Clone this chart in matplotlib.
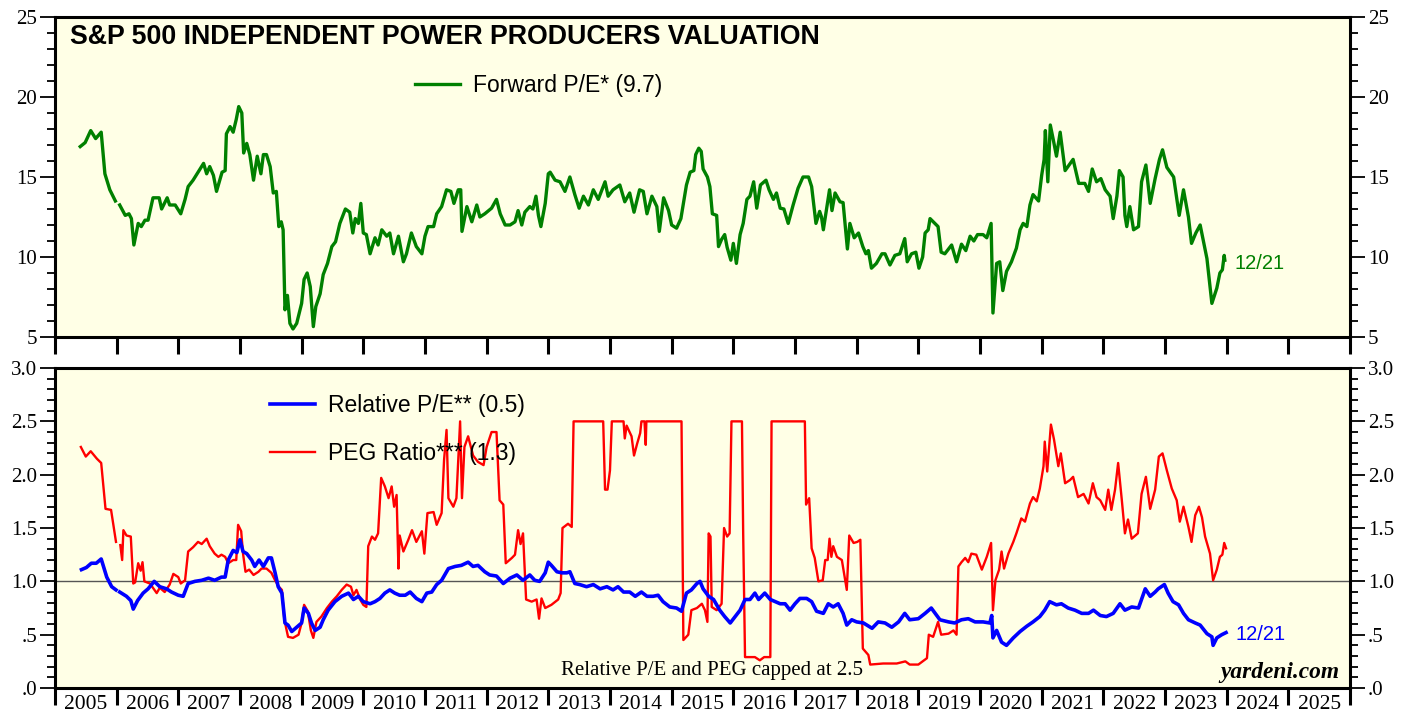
"""
S&P 500 Independent Power Producers valuation (forward P/E, relative P/E, PEG)
"""
import numpy as np
import matplotlib
matplotlib.use("Agg")
import matplotlib.pyplot as plt
from matplotlib.ticker import MultipleLocator, FixedLocator, FuncFormatter, NullFormatter

nan = np.nan

# Forward P/E (weekly readings, decimal years)
pe_dates = [
    2005.41, 2005.49, 2005.58, 2005.66, 2005.75, 2005.81, 2005.89, 2005.98, 2006.01,
    2006.05, 2006.14, 2006.20, 2006.24, 2006.28, 2006.35, 2006.40, 2006.46, 2006.51,
    2006.59, 2006.69, 2006.73, 2006.82, 2006.86, 2006.95, 2007.04, 2007.11, 2007.16,
    2007.24, 2007.32, 2007.41, 2007.46, 2007.51, 2007.57, 2007.62, 2007.71, 2007.76,
    2007.78, 2007.84, 2007.89, 2007.94, 2007.98, 2008.03, 2008.06, 2008.11, 2008.16,
    2008.22, 2008.28, 2008.34, 2008.38, 2008.43, 2008.49, 2008.54, 2008.59, 2008.63,
    2008.67, 2008.70, 2008.73, 2008.77, 2008.81, 2008.86, 2008.92, 2009.00, 2009.04,
    2009.09, 2009.14, 2009.19, 2009.23, 2009.30, 2009.35, 2009.42, 2009.49, 2009.55,
    2009.62, 2009.71, 2009.78, 2009.83, 2009.87, 2009.92, 2009.96, 2010.00, 2010.05,
    2010.11, 2010.19, 2010.24, 2010.30, 2010.38, 2010.43, 2010.49, 2010.57, 2010.65,
    2010.70, 2010.78, 2010.86, 2010.95, 2011.00, 2011.05, 2011.14, 2011.19, 2011.27,
    2011.35, 2011.42, 2011.47, 2011.54, 2011.58, 2011.60, 2011.68, 2011.76, 2011.84,
    2011.89, 2011.97, 2012.08, 2012.16, 2012.22, 2012.30, 2012.38, 2012.46, 2012.51,
    2012.57, 2012.62, 2012.70, 2012.75, 2012.80, 2012.84, 2012.88, 2012.95, 2013.00,
    2013.03, 2013.11, 2013.19, 2013.27, 2013.35, 2013.43, 2013.50, 2013.57, 2013.65,
    2013.73, 2013.81, 2013.92, 2013.97, 2014.05, 2014.16, 2014.24, 2014.32, 2014.39,
    2014.48, 2014.54, 2014.60, 2014.68, 2014.76, 2014.80, 2014.87, 2014.95, 2015.00,
    2015.08, 2015.15, 2015.19, 2015.24, 2015.30, 2015.36, 2015.39, 2015.44, 2015.48,
    2015.51, 2015.58, 2015.62, 2015.66, 2015.73, 2015.76, 2015.81, 2015.86, 2015.90,
    2015.96, 2016.00, 2016.05, 2016.11, 2016.16, 2016.22, 2016.27, 2016.33, 2016.38,
    2016.44, 2016.53, 2016.58, 2016.65, 2016.70, 2016.76, 2016.82, 2016.89, 2016.97,
    2017.05, 2017.13, 2017.22, 2017.27, 2017.34, 2017.40, 2017.43, 2017.46, 2017.56,
    2017.60, 2017.65, 2017.73, 2017.78, 2017.85, 2017.89, 2017.96, 2018.03, 2018.10,
    2018.15, 2018.19, 2018.24, 2018.32, 2018.41, 2018.46, 2018.54, 2018.62, 2018.70,
    2018.78, 2018.82, 2018.89, 2018.96, 2019.01, 2019.07, 2019.11, 2019.16, 2019.19,
    2019.32, 2019.37, 2019.43, 2019.54, 2019.62, 2019.70, 2019.77, 2019.84, 2019.90,
    2019.96, 2020.05, 2020.11, 2020.18, 2020.21, 2020.27, 2020.32, 2020.37, 2020.43,
    2020.51, 2020.59, 2020.65, 2020.70, 2020.76, 2020.81, 2020.86, 2020.95, 2021.00,
    2021.04, 2021.06, 2021.10, 2021.14, 2021.19, 2021.24, 2021.30, 2021.38, 2021.51,
    2021.60, 2021.70, 2021.76, 2021.82, 2021.89, 2021.96, 2022.03, 2022.11, 2022.16,
    2022.22, 2022.26, 2022.32, 2022.35, 2022.38, 2022.43, 2022.49, 2022.57, 2022.62,
    2022.69, 2022.76, 2022.84, 2022.91, 2022.96, 2023.03, 2023.14, 2023.23, 2023.30,
    2023.38, 2023.43, 2023.50, 2023.57, 2023.68, 2023.76, 2023.84, 2023.89, 2023.93,
    2023.96, 2023.97,
]
pe_values = [
    16.9, 17.15, 17.9, 17.4, 17.8, 15.2, 14.2, 13.5, nan,
    13.25, 12.6, 12.7, 12.4, 10.75, 12.1, 11.9, 12.3, 12.3,
    13.7, 13.7, 13.0, 13.7, 13.25, 13.25, 12.7, 13.6, 14.4,
    14.8, 15.3, 15.85, 15.2, 15.65, 15.1, 14.1, 15.3, 15.4,
    17.7, 18.15, 17.8, 18.6, 19.4, 19.0, 16.5, 17.1, 16.4,
    14.8, 16.3, 15.2, 16.4, 16.4, 15.65, 14.0, 14.1, 11.9,
    12.2, 11.7, 6.7, 7.6, 5.85, 5.5, 5.85, 7.1, 8.6,
    9.0, 8.15, 5.65, 6.9, 7.7, 8.9, 9.6, 10.65, 10.95,
    12.1, 13.0, 12.8, 11.5, 12.4, 12.1, 13.35, 11.5, 11.4,
    10.2, 11.2, 10.75, 11.7, 11.3, 11.5, 10.2, 11.3, 9.7,
    10.2, 11.5, 10.65, 10.2, 11.3, 11.9, 11.9, 12.7, 13.15,
    14.2, 14.1, 13.35, 14.2, 14.2, 11.6, 13.15, 12.2, 13.25,
    12.5, 12.7, 13.05, 13.6, 12.7, 12.0, 12.0, 12.2, 12.9,
    12.0, 12.8, 13.15, 13.0, 13.8, 12.6, 11.9, 13.35, 15.2,
    15.3, 14.8, 14.7, 14.1, 15.0, 13.9, 13.05, 13.8, 13.25,
    14.2, 13.6, 14.7, 13.8, 14.2, 14.5, 13.45, 14.0, 12.8,
    14.2, 14.1, 12.7, 13.8, 13.15, 11.6, 13.7, 12.9, 12.0,
    11.8, 12.4, 13.35, 14.5, 15.3, 15.4, 16.4, 16.8, 16.6,
    15.5, 15.0, 14.4, 12.7, 12.6, 10.65, 11.1, 11.4, 10.6,
    9.8, 10.85, 9.6, 11.4, 12.1, 13.6, 13.8, 14.7, 13.05,
    14.5, 14.8, 14.2, 13.6, 14.0, 13.05, 13.0, 12.1, 13.25,
    14.3, 15.0, 15.0, 14.4, 12.1, 12.85, 12.5, 11.7, 14.2,
    12.9, 14.0, 13.45, 13.4, 10.5, 12.1, 11.2, 11.5, 10.65,
    10.2, 10.4, 9.3, 9.6, 10.2, 10.2, 9.5, 10.1, 10.2,
    11.15, 9.7, 10.2, 10.3, 9.3, 10.0, 11.5, 11.7, 12.4,
    11.9, 10.3, 10.2, 10.75, 9.7, 10.8, 10.4, 11.3, 11.0,
    11.4, 11.4, 11.2, 12.1, 6.5, 9.6, 9.7, 7.9, 9.1,
    9.7, 10.55, 11.7, 12.1, 11.9, 13.25, 13.9, 13.5, 15.1,
    16.1, 17.9, 14.7, 18.25, 17.3, 16.3, 17.8, 15.4, 16.1,
    14.6, 14.6, 14.1, 15.5, 14.7, 14.9, 14.2, 13.8, 12.4,
    13.8, 15.4, 15.0, 12.6, 11.9, 13.15, 11.7, 11.9, 14.7,
    15.75, 13.35, 14.9, 16.1, 16.7, 15.6, 15.0, 12.6, 14.2,
    12.5, 10.85, 11.5, 12.0, 9.9, 7.1, 8.05, 9.0, 9.2,
    10.1, 9.8,
]

# Relative P/E (industry forward P/E / S&P 500 forward P/E)
rel_dates = [
    2005.43, 2005.51, 2005.59, 2005.67, 2005.75, 2005.84, 2005.92, 2005.99, 2006.02,
    2006.05, 2006.16, 2006.23, 2006.27, 2006.34, 2006.43, 2006.51, 2006.61, 2006.70,
    2006.81, 2006.89, 2007.00, 2007.08, 2007.16, 2007.27, 2007.38, 2007.49, 2007.59,
    2007.70, 2007.76, 2007.81, 2007.89, 2007.95, 2008.00, 2008.05, 2008.11, 2008.19,
    2008.24, 2008.31, 2008.38, 2008.46, 2008.51, 2008.57, 2008.62, 2008.68, 2008.73,
    2008.78, 2008.84, 2008.92, 2009.00, 2009.04, 2009.11, 2009.16, 2009.22, 2009.30,
    2009.35, 2009.43, 2009.54, 2009.65, 2009.76, 2009.84, 2009.92, 2010.00, 2010.11,
    2010.19, 2010.27, 2010.35, 2010.43, 2010.51, 2010.59, 2010.68, 2010.76, 2010.86,
    2010.95, 2011.03, 2011.11, 2011.19, 2011.27, 2011.38, 2011.49, 2011.59, 2011.70,
    2011.78, 2011.86, 2011.97, 2012.05, 2012.16, 2012.27, 2012.38, 2012.49, 2012.59,
    2012.70, 2012.78, 2012.86, 2012.95, 2013.00, 2013.05, 2013.14, 2013.22, 2013.30,
    2013.35, 2013.43, 2013.51, 2013.62, 2013.73, 2013.84, 2013.95, 2014.05, 2014.13,
    2014.22, 2014.32, 2014.41, 2014.51, 2014.60, 2014.70, 2014.78, 2014.86, 2014.97,
    2015.08, 2015.16, 2015.24, 2015.32, 2015.41, 2015.46, 2015.51, 2015.60, 2015.68,
    2015.78, 2015.86, 2015.95, 2016.03, 2016.11, 2016.19, 2016.27, 2016.35, 2016.41,
    2016.51, 2016.60, 2016.68, 2016.76, 2016.84, 2016.92, 2017.00, 2017.08, 2017.19,
    2017.27, 2017.35, 2017.46, 2017.54, 2017.62, 2017.70, 2017.78, 2017.84, 2017.92,
    2018.00, 2018.11, 2018.25, 2018.35, 2018.46, 2018.57, 2018.68, 2018.78, 2018.86,
    2019.00, 2019.11, 2019.21, 2019.35, 2019.49, 2019.59, 2019.70, 2019.81, 2019.92,
    2020.05, 2020.16, 2020.19, 2020.21, 2020.27, 2020.35, 2020.43, 2020.54, 2020.65,
    2020.76, 2020.86, 2020.97, 2021.05, 2021.13, 2021.24, 2021.32, 2021.43, 2021.54,
    2021.65, 2021.76, 2021.84, 2021.95, 2022.05, 2022.16, 2022.27, 2022.35, 2022.46,
    2022.57, 2022.68, 2022.76, 2022.84, 2022.89, 2022.99, 2023.05, 2023.13, 2023.22,
    2023.30, 2023.38, 2023.49, 2023.57, 2023.68, 2023.76, 2023.78, 2023.84, 2023.92,
    2023.99,
]
rel_values = [
    1.11, 1.13, 1.17, 1.17, 1.21, 1.04, 0.95, 0.92, nan,
    0.90, 0.86, 0.82, 0.74, 0.82, 0.89, 0.93, 1.00, 0.95,
    0.93, 0.90, 0.87, 0.86, 0.98, 1.00, 1.01, 1.03, 1.01,
    1.04, 1.04, 1.20, 1.29, 1.27, 1.39, 1.28, 1.26, 1.20,
    1.14, 1.20, 1.14, 1.22, 1.22, 1.08, 0.95, 0.89, 0.61,
    0.59, 0.53, 0.57, 0.61, 0.75, 0.70, 0.61, 0.54, 0.57,
    0.64, 0.73, 0.81, 0.86, 0.89, 0.83, 0.86, 0.81, 0.79,
    0.81, 0.84, 0.89, 0.92, 0.89, 0.87, 0.87, 0.90, 0.84,
    0.81, 0.89, 0.90, 0.97, 1.01, 1.12, 1.14, 1.15, 1.18,
    1.14, 1.15, 1.09, 1.06, 1.05, 0.98, 1.03, 1.06, 1.01,
    1.06, 1.01, 1.00, 1.08, 1.18, 1.15, 1.09, 1.08, 1.08,
    1.09, 0.98, 0.97, 0.95, 0.97, 0.93, 0.95, 0.92, 0.95,
    0.90, 0.90, 0.86, 0.90, 0.86, 0.86, 0.87, 0.81, 0.76,
    0.75, 0.72, 0.89, 0.92, 0.98, 1.00, 0.93, 0.86, 0.83,
    0.73, 0.67, 0.61, 0.67, 0.73, 0.83, 0.83, 0.89, 0.83,
    0.89, 0.83, 0.81, 0.79, 0.79, 0.73, 0.79, 0.84, 0.84,
    0.81, 0.72, 0.70, 0.79, 0.76, 0.79, 0.70, 0.59, 0.64,
    0.62, 0.61, 0.56, 0.62, 0.61, 0.57, 0.62, 0.70, 0.64,
    0.65, 0.70, 0.75, 0.64, 0.62, 0.61, 0.64, 0.65, 0.62,
    0.62, 0.61, 0.68, 0.47, 0.54, 0.43, 0.40, 0.47, 0.53,
    0.58, 0.62, 0.67, 0.73, 0.81, 0.78, 0.79, 0.75, 0.73,
    0.70, 0.70, 0.73, 0.68, 0.67, 0.70, 0.79, 0.73, 0.76,
    0.75, 0.93, 0.86, 0.90, 0.93, 0.97, 0.89, 0.81, 0.78,
    0.70, 0.64, 0.61, 0.59, 0.51, 0.48, 0.40, 0.47, 0.50,
    0.52,
]

# PEG ratio (capped at 2.5)
peg_dates = [
    2005.42, 2005.50, 2005.58, 2005.68, 2005.75, 2005.82, 2005.91, 2005.99, 2006.02,
    2006.06, 2006.09, 2006.11, 2006.16, 2006.23, 2006.27, 2006.30, 2006.35, 2006.39,
    2006.42, 2006.45, 2006.54, 2006.65, 2006.70, 2006.78, 2006.86, 2006.92, 2007.00,
    2007.04, 2007.11, 2007.16, 2007.24, 2007.32, 2007.38, 2007.46, 2007.51, 2007.59,
    2007.65, 2007.70, 2007.76, 2007.81, 2007.89, 2007.94, 2007.97, 2008.02, 2008.05,
    2008.09, 2008.15, 2008.22, 2008.30, 2008.35, 2008.43, 2008.51, 2008.57, 2008.63,
    2008.68, 2008.72, 2008.78, 2008.86, 2008.95, 2009.00, 2009.04, 2009.10, 2009.15,
    2009.19, 2009.24, 2009.32, 2009.41, 2009.49, 2009.57, 2009.65, 2009.73, 2009.80,
    2009.84, 2009.89, 2009.95, 2010.00, 2010.05, 2010.08, 2010.14, 2010.19, 2010.24,
    2010.29, 2010.35, 2010.41, 2010.46, 2010.50, 2010.54, 2010.57, 2010.59, 2010.65,
    2010.73, 2010.79, 2010.86, 2010.95, 2010.99, 2011.04, 2011.14, 2011.19, 2011.27,
    2011.31, 2011.35, 2011.38, 2011.46, 2011.51, 2011.57, 2011.60, 2011.64, 2011.70,
    2011.78, 2011.86, 2011.95, 2012.00, 2012.08, 2012.16, 2012.21, 2012.27, 2012.31,
    2012.41, 2012.46, 2012.51, 2012.55, 2012.59, 2012.64, 2012.73, 2012.81, 2012.85,
    2012.89, 2012.95, 2013.05, 2013.16, 2013.20, 2013.23, 2013.32, 2013.38, 2013.41,
    2013.89, 2013.92, 2013.96, 2014.00, 2014.03, 2014.22, 2014.24, 2014.27, 2014.35,
    2014.39, 2014.44, 2014.49, 2014.51, 2014.56, 2014.58, 2014.59, 2015.16, 2015.19,
    2015.27, 2015.32, 2015.41, 2015.49, 2015.54, 2015.58, 2015.60, 2015.63, 2015.65,
    2015.73, 2015.81, 2015.85, 2015.90, 2015.94, 2015.97, 2016.14, 2016.16, 2016.19,
    2016.35, 2016.43, 2016.50, 2016.60, 2016.62, 2017.16, 2017.18, 2017.23, 2017.27,
    2017.32, 2017.38, 2017.45, 2017.49, 2017.53, 2017.56, 2017.59, 2017.62, 2017.68,
    2017.76, 2017.84, 2017.88, 2017.95, 2018.01, 2018.06, 2018.10, 2018.19, 2018.22,
    2018.43, 2018.65, 2018.79, 2018.86, 2019.00, 2019.14, 2019.17, 2019.24, 2019.32,
    2019.37, 2019.49, 2019.57, 2019.62, 2019.65, 2019.70, 2019.76, 2019.81, 2019.86,
    2019.94, 2020.03, 2020.11, 2020.18, 2020.21, 2020.25, 2020.31, 2020.35, 2020.39,
    2020.46, 2020.54, 2020.59, 2020.67, 2020.73, 2020.81, 2020.86, 2020.92, 2020.97,
    2021.03, 2021.05, 2021.09, 2021.15, 2021.20, 2021.27, 2021.31, 2021.38, 2021.46,
    2021.51, 2021.59, 2021.68, 2021.76, 2021.83, 2021.89, 2021.95, 2022.03, 2022.08,
    2022.13, 2022.19, 2022.24, 2022.30, 2022.35, 2022.40, 2022.46, 2022.56, 2022.62,
    2022.69, 2022.76, 2022.84, 2022.90, 2022.96, 2023.03, 2023.11, 2023.19, 2023.24,
    2023.30, 2023.38, 2023.43, 2023.49, 2023.55, 2023.60, 2023.65, 2023.73, 2023.78,
    2023.84, 2023.89, 2023.93, 2023.96, 2023.99,
]
peg_values = [
    2.26, 2.17, 2.22, 2.15, 2.11, 1.68, 1.67, 1.37, nan,
    1.34, 1.20, 1.48, 1.43, 1.42, 0.98, 0.99, 1.17, 1.10,
    1.18, 1.00, 0.98, 0.89, 0.94, 0.90, 0.97, 1.07, 1.04,
    0.98, 1.01, 1.28, 1.32, 1.37, 1.35, 1.40, 1.33, 1.26,
    1.23, 1.25, 1.23, 1.17, 1.20, 1.20, 1.53, 1.47, 1.26,
    1.09, 1.11, 1.06, 1.09, 1.12, 1.12, 1.08, 1.01, 0.95,
    0.92, 0.64, 0.48, 0.47, 0.50, 0.61, 0.78, 0.72, 0.54,
    0.47, 0.62, 0.67, 0.75, 0.81, 0.86, 0.92, 0.97, 0.95,
    0.87, 0.92, 0.83, 0.78, 0.76, 1.33, 1.42, 1.39, 1.45,
    1.97, 1.89, 1.78, 1.89, 1.70, 1.81, 1.12, 1.43, 1.28,
    1.39, 1.48, 1.37, 1.47, 1.26, 1.64, 1.65, 1.53, 1.64,
    2.14, 2.42, 1.78, 1.70, 1.78, 2.50, 1.78, 2.26, 2.36,
    2.18, 2.12, 2.09, 2.26, 2.40, 2.40, 1.76, 1.72, 1.17,
    1.22, 1.25, 1.48, 1.35, 1.45, 0.83, 0.81, 0.83, 0.65,
    0.84, 0.75, 0.78, 0.83, 0.89, 1.50, 1.54, 1.51, 2.50,
    2.50, 1.86, 1.86, 2.04, 2.50, 2.50, 2.34, 2.46, 2.36,
    2.18, 2.29, 2.39, 2.50, 2.50, 2.28, 2.50, 2.50, 0.45,
    0.50, 0.73, 0.75, 0.79, 0.73, 0.62, 1.45, 1.42, 0.76,
    0.73, 0.79, 1.50, 1.42, 1.45, 2.50, 2.50, 1.45, 0.29,
    0.29, 0.26, 0.29, 0.29, 2.50, 2.50, 1.72, 1.78, 1.31,
    1.22, 1.00, 1.01, 1.20, 1.20, 1.40, 1.23, 1.33, 1.23,
    1.20, 0.92, 1.43, 1.36, 1.37, 1.39, 0.37, 0.31, 0.22,
    0.23, 0.23, 0.25, 0.22, 0.22, 0.28, 0.50, 0.48, 0.62,
    0.50, 0.51, 0.54, 0.50, 1.14, 1.18, 1.22, 1.18, 1.26,
    1.25, 1.11, 1.23, 1.36, 0.73, 1.01, 1.11, 1.28, 1.12,
    1.26, 1.37, 1.45, 1.59, 1.56, 1.73, 1.79, 1.75, 1.87,
    2.08, 2.31, 2.03, 2.47, 2.33, 2.08, 2.20, 1.92, 1.95,
    1.98, 1.79, 1.82, 1.73, 1.92, 1.79, 1.76, 1.67, 1.86,
    1.67, 1.86, 2.11, 1.76, 1.45, 1.58, 1.40, 1.45, 1.82,
    1.98, 1.68, 1.86, 2.17, 2.20, 2.04, 1.87, 1.76, 1.56,
    1.70, 1.51, 1.37, 1.62, 1.70, 1.60, 1.42, 1.26, 1.01,
    1.11, 1.23, 1.25, 1.36, 1.31,
]

years = list(range(2005, 2027))

TITLE = "S&P 500 INDEPENDENT POWER PRODUCERS VALUATION"
BG = "#ffffe6"
SERIF = ["Liberation Serif", "DejaVu Serif"]
SANS = ["Liberation Sans", "DejaVu Sans"]

plt.rcParams["font.family"] = SANS

fig = plt.figure(figsize=(14.16, 7.17), dpi=100)
ax1 = fig.add_axes([0.0388, 0.530, 0.9146, 0.4463])
ax2 = fig.add_axes([0.0388, 0.0404, 0.9146, 0.4463])


def style_axis(ax, ymin, ymax, major, minor):
    ax.set_facecolor(BG)
    ax.set_xlim(2005, 2026)
    ax.set_ylim(ymin, ymax)
    for sp in ax.spines.values():
        sp.set_linewidth(2.2)
    ax.xaxis.set_major_locator(FixedLocator(years))
    ax.xaxis.set_major_formatter(NullFormatter())
    ax.tick_params(axis="x", which="major", direction="out", length=12, width=2.2,
                   top=False, bottom=True)
    ax.yaxis.set_major_locator(MultipleLocator(major))
    ax.yaxis.set_minor_locator(MultipleLocator(minor))
    ax.tick_params(axis="y", which="major", direction="out", length=11, width=1.3,
                   left=True, right=True, labelleft=True, labelright=True,
                   labelsize=15, pad=2)
    ax.tick_params(axis="y", which="minor", direction="out", length=6, width=1.3,
                   left=True, right=True)


# top panel: forward P/E
style_axis(ax1, 5, 25, 5, 1)
ax1.plot(pe_dates, pe_values, color="#008000", lw=2.4, label="Forward P/E* (9.7)")
ax1.text(0.0116, 0.937, TITLE, transform=ax1.transAxes, fontsize=19.3,
         fontweight="bold", va="center", ha="left")
ax1.text(pe_dates[-1] + 0.15, 9.6, "12/21", color="#008000", fontsize=14.5,
         va="center", ha="left")
ax1.legend(loc="upper left", bbox_to_anchor=(0.278, 0.823), frameon=False,
           fontsize=16.5, handlelength=1.97, handletextpad=0.57, borderpad=0,
           borderaxespad=0)
for lab in ax1.get_yticklabels():
    lab.set_family(SERIF)

# bottom panel: relative P/E and PEG
style_axis(ax2, 0, 3.0, 0.5, 0.1)
ax2.yaxis.set_major_formatter(FuncFormatter(
    lambda v, p: ("%.1f" % v).lstrip("0") if v < 1 else "%.1f" % v))
ax2.axhline(1.0, color="#555555", lw=1.0, zorder=1)
ax2.plot(rel_dates, rel_values, color="#0000ff", lw=2.6, label="Relative P/E** (0.5)", zorder=3)
ax2.plot(peg_dates, peg_values, color="#ff0000", lw=1.7, label="PEG Ratio*** (1.3)", zorder=2)
ax2.text(rel_dates[-1] + 0.15, 0.5, "12/21", color="#0000ff", fontsize=14.5,
         va="center", ha="left")
ax2.legend(loc="upper left", bbox_to_anchor=(0.166, 0.918), frameon=False,
           fontsize=16.5, handlelength=1.97, handletextpad=0.57, borderpad=0,
           borderaxespad=0, labelspacing=1.1)

# year labels centred between year ticks
ax2.xaxis.set_minor_locator(FixedLocator([y + 0.5 for y in range(2005, 2026)]))
ax2.xaxis.set_minor_formatter(FuncFormatter(lambda v, p: str(int(v))))
ax2.tick_params(axis="x", which="minor", length=0, labelsize=15.5, pad=5)
for lab in ax2.get_xticklabels(minor=True):
    lab.set_family(SERIF)
for lab in ax2.get_yticklabels():
    lab.set_family(SERIF)

ax2.text(0.507, 0.056, "Relative P/E and PEG capped at 2.5", transform=ax2.transAxes,
         fontsize=15, family=SERIF, ha="center", va="center")
ax2.text(0.992, 0.047, "yardeni.com", transform=ax2.transAxes, fontsize=16.8,
         family=SERIF, fontweight="bold", style="italic", ha="right", va="center")

fig.savefig("out.png", dpi=100, facecolor="white")
